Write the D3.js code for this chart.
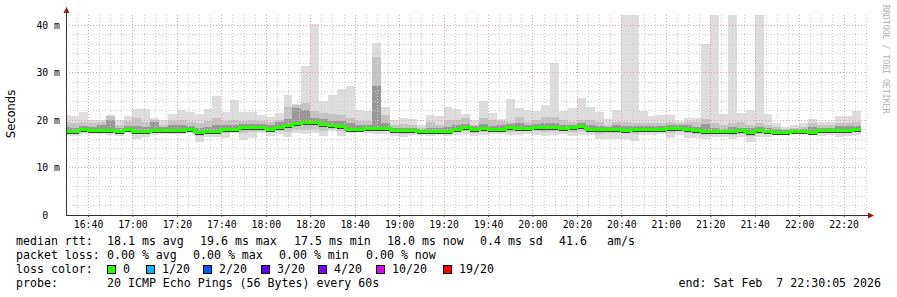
<!DOCTYPE html>
<html>
<head>
<meta charset="utf-8">
<script src="https://cdn.jsdelivr.net/npm/d3@7"></script>
<style>
  body { margin: 0; background: #fff; }
  svg { display: block; }
  text { font-family: "DejaVu Sans Mono", monospace; white-space: pre; }
</style>
</head>
<body>
<svg id="chart" width="897" height="297"></svg>
<script>
// 4-minute slots, first slot ends 16:32, last ends 22:28 (values in ms)
const median = [17.7,17.7,18.1,17.8,17.8,17.8,17.7,18.1,17.7,17.7,
  17.8,17.8,17.8,17.9,18.1,17.5,17.7,17.7,18.2,18.2,
  18.5,18.5,18.5,18.2,18.6,18.9,19.3,19.5,19.6,19.1,
  19.0,18.8,18.2,18.2,18.3,18.3,18.3,17.8,17.8,17.8,
  17.7,17.7,17.6,17.7,18.2,18.5,18.1,18.3,18.2,18.2,
  18.5,18.3,18.3,18.5,18.5,18.5,18.4,18.5,18.7,18.2,
  18.2,18.2,18.2,17.9,18.1,18.1,18.2,18.2,18.3,18.4,
  18.2,17.8,17.7,17.7,17.6,17.7,17.8,17.5,17.8,17.7,
  17.5,17.5,17.7,17.7,17.5,17.8,17.8,17.9,17.9,18.0];

const pingMax = [21.0,20.8,21.7,20.0,20.0,21.0,19.9,20.8,22.4,22.4,
  20.5,19.9,21.2,22.2,21.7,21.2,22.4,25.0,21.7,24.3,
  21.7,21.7,21.0,20.7,21.4,25.2,23.4,31.4,40.2,24.1,
  25.2,26.6,27.1,22.2,21.8,36.3,22.8,19.9,20.5,20.3,
  18.9,21.0,20.8,22.7,22.4,21.3,19.9,24.0,21.4,20.3,
  24.5,22.5,22.0,21.9,23.1,32.0,21.9,22.5,24.7,22.8,
  21.6,20.3,22.0,42.5,42.5,21.9,20.8,21.0,21.0,19.8,
  20.5,20.5,35.9,42.5,21.2,42.5,21.5,22.1,42.5,21.3,
  19.3,18.6,18.9,19.3,20.3,19.6,19.6,20.8,20.8,21.9];

const pingMin = [16.6,16.7,17.0,17.0,17.1,16.9,16.6,17.2,16.1,16.4,
  16.9,17.0,17.0,17.0,17.2,15.4,16.4,16.4,16.2,17.3,
  15.8,16.2,17.3,16.6,17.0,16.5,17.2,17.1,17.2,16.7,
  17.6,16.7,17.2,17.5,17.3,17.1,17.0,16.6,16.4,16.9,
  16.9,16.6,16.9,16.7,16.9,17.1,16.7,16.8,17.0,17.0,
  16.8,16.8,17.1,16.9,16.6,16.9,17.0,16.6,16.8,16.8,
  16.0,16.0,16.0,16.0,15.5,16.8,16.9,17.0,16.2,16.8,
  16.2,16.3,16.1,16.4,16.5,16.0,16.4,15.3,16.5,16.4,
  16.9,17.0,17.0,17.2,16.8,16.6,16.8,16.4,16.6,16.9];

// second lowest / second highest ping
const pingLo2 = [17.1,17.2,17.4,17.3,17.3,17.3,17.2,17.5,17.1,17.2,
  17.3,17.4,17.4,17.4,17.6,16.6,17.1,17.1,17.2,17.6,
  17.3,17.4,17.7,17.4,17.6,17.5,17.8,17.9,18.0,17.6,
  18.1,17.6,17.6,17.8,17.7,17.6,17.6,17.2,17.0,17.3,
  17.3,17.1,17.2,17.2,17.5,17.6,17.3,17.5,17.6,17.5,
  17.5,17.6,17.7,17.6,17.4,17.7,17.7,17.5,17.7,17.4,
  17.1,17.2,17.3,17.2,17.0,17.5,17.6,17.6,17.3,17.6,
  17.2,17.1,16.9,17.0,17.0,16.9,17.0,16.6,17.1,17.1,
  17.2,17.3,17.4,17.4,17.2,17.2,17.3,17.2,17.3,17.5];

const pingHi2 = [19.6,19.4,19.6,19.3,19.6,20.9,19.0,19.7,20.4,19.6,
  19.9,19.0,19.7,20.0,19.6,19.4,19.8,20.4,19.7,20.0,
  19.8,19.9,19.7,19.5,20.0,22.7,23.2,23.5,21.8,21.5,
  21.2,21.0,20.4,19.8,19.8,33.2,21.0,19.0,19.2,18.9,
  18.4,19.5,18.9,19.9,20.0,20.4,19.0,20.4,20.0,19.7,
  19.6,20.6,19.6,20.0,20.6,20.6,20.0,19.6,20.0,20.0,
  19.6,19.0,19.6,19.6,19.4,19.4,19.3,19.3,19.6,19.3,
  19.5,19.6,20.3,19.4,19.0,19.4,19.6,19.0,19.4,18.9,
  18.6,18.0,18.4,18.6,19.4,19.0,19.0,19.3,19.4,19.6];

// inner core of the smoke
const pingLo3 = [17.4,17.4,17.7,17.5,17.5,17.5,17.4,17.8,17.4,17.4,
  17.5,17.5,17.5,17.6,17.8,17.1,17.4,17.4,17.8,17.9,
  18.0,18.1,18.2,17.9,18.2,18.4,18.8,19.0,19.1,18.6,
  18.6,18.3,17.9,17.9,18.0,17.9,17.9,17.5,17.4,17.5,
  17.4,17.4,17.3,17.4,17.8,18.1,17.8,18.0,17.9,17.9,
  18.1,18.0,18.0,18.1,18.1,18.1,18.1,18.1,18.3,17.9,
  17.8,17.8,17.8,17.5,17.7,17.8,17.9,17.9,17.9,18.1,
  17.8,17.5,17.3,17.3,17.3,17.3,17.4,17.1,17.4,17.4,
  17.2,17.2,17.4,17.4,17.2,17.5,17.5,17.5,17.6,17.7];

const pingHi3 = [18.5,18.4,18.8,18.6,19.0,20.0,18.4,18.8,18.8,18.6,
  19.5,18.5,18.9,18.9,18.7,18.3,18.6,18.9,19.0,19.0,
  19.2,19.2,19.2,19.0,19.5,20.3,22.5,22.0,20.5,20.2,
  19.8,19.8,19.3,18.9,18.9,27.1,19.4,18.4,18.4,18.4,
  18.1,18.4,18.3,18.6,18.9,19.2,18.7,19.2,18.8,18.9,
  19.1,19.3,18.9,19.1,19.3,19.3,19.0,19.0,19.3,19.0,
  18.8,18.6,18.9,18.7,18.8,18.7,18.8,18.8,19.0,18.9,
  18.9,18.6,19.2,18.4,18.2,18.5,18.4,18.4,18.6,18.3,
  18.0,17.9,18.1,18.2,18.5,18.4,18.4,18.7,18.7,18.8];

const yTicks = [0, 10, 20, 30, 40];
const rttLegend = ["18.1 ms avg", "19.6 ms max", "17.5 ms min", "18.0 ms now", "0.4 ms sd", "41.6", "am/s"];
const lossLegend = ["0.00 % avg", "0.00 % max", "0.00 % min", "0.00 % now"];
const lossLabels = ["0", "1/20", "2/20", "3/20", "4/20", "10/20", "19/20"];
const lossColors = ["#26ff00", "#00b8ff", "#0059ff", "#5e00ff", "#7e00ff", "#dd00ff", "#ff0000"];
const probeText = "20 ICMP Echo Pings (56 Bytes) every 60s";
const endText = "end: Sat Feb  7 22:30:05 2026";

const svg = d3.select("#chart");
const tStart = new Date(Date.UTC(2026, 1, 7, 16, 30, 5));
const tEnd = new Date(Date.UTC(2026, 1, 7, 22, 30, 5));
const firstSlot = new Date(Date.UTC(2026, 1, 7, 16, 28, 0));
const stepMin = 4;

const x = d3.scaleUtc().domain([tStart, tEnd]).range([66, 866]);
const y = d3.scaleLinear().domain([0, 42.1]).range([215, 15]);

// column edges
const cols = median.map((m, i) => {
    const t0 = d3.utcMinute.offset(firstSlot, i * stepMin);
    const t1 = d3.utcMinute.offset(t0, stepMin);
    return { i, x0: Math.max(x(t0), 66), x1: x(t1) };
});

svg.append("defs").append("clipPath").attr("id", "plotClip")
    .append("rect").attr("x", 66).attr("y", 15).attr("width", 800).attr("height", 200);

const smoke = svg.append("g").attr("clip-path", "url(#plotClip)");

// smoke bands, outer to inner
const bands = [
    { lo: pingMin, hi: pingMax, color: "#dddddd" },
    { lo: pingLo2, hi: pingHi2, color: "#c4c4c4" },
    { lo: pingLo3, hi: pingHi3, color: "#989898" }
];
bands.forEach(b => {
    smoke.append("g").selectAll("rect")
        .data(cols)
        .join("rect")
        .attr("x", d => d.x0)
        .attr("width", d => d.x1 - d.x0)
        .attr("y", d => y(b.hi[d.i]))
        .attr("height", d => y(b.lo[d.i]) - y(b.hi[d.i]))
        .attr("fill", b.color)
        .attr("shape-rendering", "crispEdges");
});

// grid
const grid = svg.append("g");
const minorT = d3.utcMinute.every(5).range(tStart, tEnd).filter(t => t.getUTCMinutes() % 20 !== 0);
const majorT = d3.utcMinute.every(20).range(tStart, tEnd);
grid.selectAll(".vminor").data(minorT).join("line")
    .attr("x1", d => Math.round(x(d)) + 0.5).attr("x2", d => Math.round(x(d)) + 0.5)
    .attr("y1", 15).attr("y2", 215)
    .attr("stroke", "#cfcfcf").attr("stroke-dasharray", "1,2");
const minorV = d3.range(2, 42, 2).filter(v => v % 10 !== 0);
grid.selectAll(".hminor").data(minorV).join("line")
    .attr("x1", 66).attr("x2", 866)
    .attr("y1", d => Math.round(y(d)) + 0.5).attr("y2", d => Math.round(y(d)) + 0.5)
    .attr("stroke", "#cfcfcf").attr("stroke-dasharray", "1,2");
grid.selectAll(".vmajor").data(majorT).join("line")
    .attr("x1", d => Math.round(x(d)) + 0.5).attr("x2", d => Math.round(x(d)) + 0.5)
    .attr("y1", 15).attr("y2", 215)
    .attr("stroke", "#eea0a0").attr("stroke-dasharray", "1,2");
grid.selectAll(".hmajor").data(yTicks.slice(1)).join("line")
    .attr("x1", 66).attr("x2", 866)
    .attr("y1", d => Math.round(y(d)) + 0.5).attr("y2", d => Math.round(y(d)) + 0.5)
    .attr("stroke", "#eea0a0").attr("stroke-dasharray", "1,2");

// thin dark core just under the median
const core = svg.append("g").attr("clip-path", "url(#plotClip)");
core.selectAll("rect")
    .data(cols)
    .join("rect")
    .attr("x", d => d.x0)
    .attr("width", d => d.x1 - d.x0)
    .attr("y", d => Math.round(y(median[d.i])))
    .attr("height", 3)
    .attr("fill", "#404040")
    .attr("shape-rendering", "crispEdges");

// median line, stepped
const pts = [];
cols.forEach(d => {
    pts.push([d.x0, Math.round(y(median[d.i])) + 0.5]);
    pts.push([d.x1, Math.round(y(median[d.i])) + 0.5]);
});
svg.append("path")
    .attr("clip-path", "url(#plotClip)")
    .attr("d", d3.line()(pts))
    .attr("fill", "none")
    .attr("stroke", lossColors[0])
    .attr("stroke-width", 3)
    .attr("shape-rendering", "crispEdges");

// axes
const xAxis = svg.append("g")
    .attr("transform", "translate(0,215)")
    .call(d3.axisBottom(x).ticks(d3.utcMinute.every(20)).tickFormat(d3.utcFormat("%H:%M")).tickSize(2));
xAxis.select(".domain").remove();
xAxis.selectAll("line").attr("stroke", "#444");
xAxis.selectAll("text").attr("y", 13).attr("dy", 0)
    .attr("font-size", "9.8px").attr("font-family", "DejaVu Sans Mono").attr("fill", "#000");

const yAxis = svg.append("g")
    .attr("transform", "translate(66,0)")
    .call(d3.axisLeft(y).tickValues(yTicks).tickFormat(d => d === 0 ? "0  " : d + " m").tickSize(0).tickPadding(6));
yAxis.select(".domain").remove();
yAxis.selectAll("text").attr("font-size", "9.8px").attr("font-family", "DejaVu Sans Mono").attr("fill", "#000");

svg.append("line").attr("x1", 66.5).attr("x2", 66.5).attr("y1", 12).attr("y2", 215)
    .attr("stroke", "#333");
svg.append("line").attr("x1", 66).attr("x2", 869).attr("y1", 215.5).attr("y2", 215.5)
    .attr("stroke", "#333");
svg.append("path").attr("d", "M63.5,13 L69.5,13 L66.5,7 Z").attr("fill", "#a01818");
svg.append("path").attr("d", "M868,212.5 L868,218.5 L874,215.5 Z").attr("fill", "#a01818");

// titles
svg.append("text")
    .attr("transform", "translate(15,114) rotate(-90)")
    .attr("text-anchor", "middle")
    .style("font-family", "DejaVu Sans")
    .attr("font-size", "11.5px")
    .attr("fill", "#000")
    .text("Seconds");

svg.append("text")
    .attr("transform", "translate(883,5) rotate(90)")
    .attr("font-size", "8.2px")
    .attr("fill", "#b0b0b0")
    .text("RRDTOOL / TOBI OETIKER");

// legend
const leg = svg.append("g").attr("font-size", "11.6px").attr("fill", "#000");
const row = [245, 259, 273, 287];
leg.append("text").attr("x", 16).attr("y", row[0]).text("median rtt:");
const rttX = [107, 200, 294, 387, 480, 559, 607];
rttLegend.forEach((s, i) => leg.append("text").attr("x", rttX[i]).attr("y", row[0]).text(s));

leg.append("text").attr("x", 16).attr("y", row[1]).text("packet loss:");
const lossX = [107, 193, 279, 366];
lossLegend.forEach((s, i) => leg.append("text").attr("x", lossX[i]).attr("y", row[1]).text(s));

leg.append("text").attr("x", 16).attr("y", row[2]).text("loss color:");
const boxX = [107, 146, 203, 261, 318, 376, 443];
lossLabels.forEach((s, i) => {
    leg.append("rect").attr("x", boxX[i] + 0.5).attr("y", 265.5).attr("width", 8).attr("height", 8)
        .attr("fill", lossColors[i]).attr("stroke", "#000");
    leg.append("text").attr("x", boxX[i] + 16).attr("y", row[2]).text(s);
});

leg.append("text").attr("x", 16).attr("y", row[3]).text("probe:");
leg.append("text").attr("x", 107).attr("y", row[3]).text(probeText);
leg.append("text").attr("x", 881).attr("y", row[3]).attr("text-anchor", "end").text(endText);
</script>
</body>
</html>
